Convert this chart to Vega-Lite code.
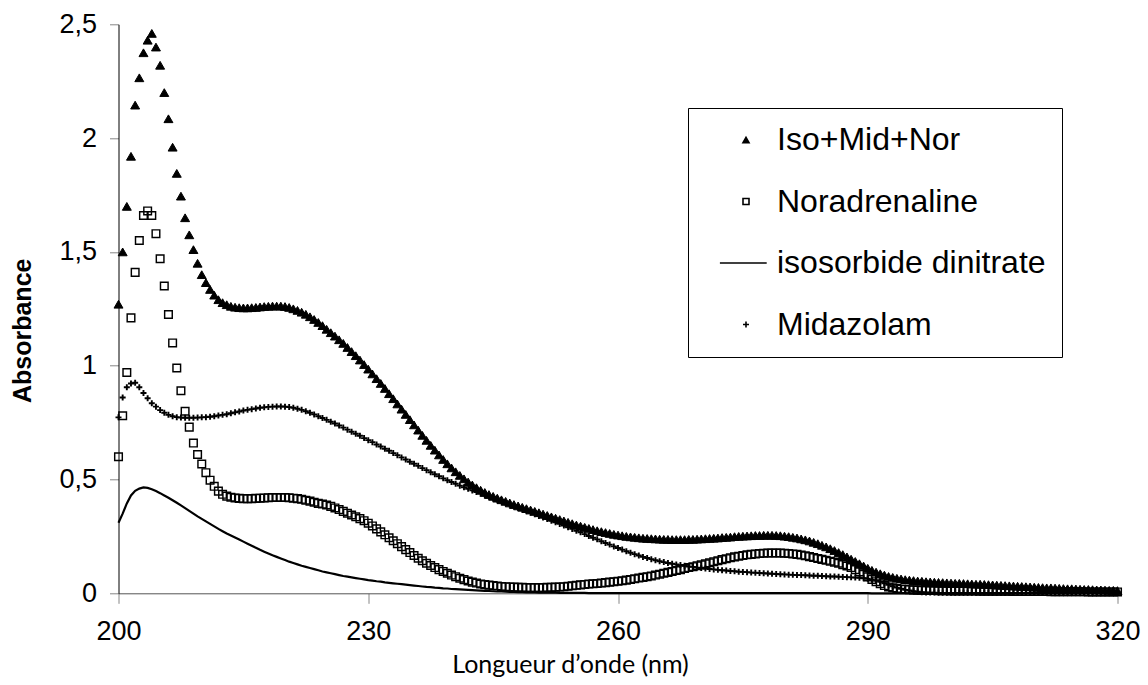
{
"$schema": "https://vega.github.io/schema/vega-lite/v6.json",
"width": 999, "height": 569,
"autosize": {"type": "none"},
"padding": {"left": 118.5, "top": 24.3, "right": 30.5, "bottom": 91.7},
"background": "white",
"config": {"view": {"stroke": null}, "axis": {"grid": false}},
"data": {"values": [
{"nm":200,"Iso+Mid+Nor":1.27,"Noradrenaline":0.6,"isosorbide dinitrate":0.31,"Midazolam":0.773},
{"nm":200.5,"Iso+Mid+Nor":1.5,"Noradrenaline":0.78,"isosorbide dinitrate":0.35,"Midazolam":0.86},
{"nm":201,"Iso+Mid+Nor":1.7,"Noradrenaline":0.97,"isosorbide dinitrate":0.395,"Midazolam":0.905},
{"nm":201.5,"Iso+Mid+Nor":1.92,"Noradrenaline":1.21,"isosorbide dinitrate":0.43,"Midazolam":0.922},
{"nm":202,"Iso+Mid+Nor":2.145,"Noradrenaline":1.41,"isosorbide dinitrate":0.45,"Midazolam":0.925},
{"nm":202.5,"Iso+Mid+Nor":2.265,"Noradrenaline":1.55,"isosorbide dinitrate":0.46,"Midazolam":0.905},
{"nm":203,"Iso+Mid+Nor":2.375,"Noradrenaline":1.66,"isosorbide dinitrate":0.465,"Midazolam":0.88},
{"nm":203.5,"Iso+Mid+Nor":2.43,"Noradrenaline":1.68,"isosorbide dinitrate":0.463,"Midazolam":0.857},
{"nm":204,"Iso+Mid+Nor":2.46,"Noradrenaline":1.66,"isosorbide dinitrate":0.457,"Midazolam":0.835},
{"nm":204.5,"Iso+Mid+Nor":2.4,"Noradrenaline":1.58,"isosorbide dinitrate":0.449,"Midazolam":0.82},
{"nm":205,"Iso+Mid+Nor":2.32,"Noradrenaline":1.47,"isosorbide dinitrate":0.44,"Midazolam":0.805},
{"nm":205.5,"Iso+Mid+Nor":2.2,"Noradrenaline":1.35,"isosorbide dinitrate":0.43,"Midazolam":0.793},
{"nm":206,"Iso+Mid+Nor":2.085,"Noradrenaline":1.225,"isosorbide dinitrate":0.42,"Midazolam":0.784},
{"nm":206.5,"Iso+Mid+Nor":1.96,"Noradrenaline":1.1,"isosorbide dinitrate":0.409,"Midazolam":0.778},
{"nm":207,"Iso+Mid+Nor":1.845,"Noradrenaline":0.99,"isosorbide dinitrate":0.398,"Midazolam":0.774},
{"nm":207.5,"Iso+Mid+Nor":1.745,"Noradrenaline":0.89,"isosorbide dinitrate":0.386,"Midazolam":0.772},
{"nm":208,"Iso+Mid+Nor":1.65,"Noradrenaline":0.8,"isosorbide dinitrate":0.374,"Midazolam":0.771},
{"nm":208.5,"Iso+Mid+Nor":1.575,"Noradrenaline":0.73,"isosorbide dinitrate":0.362,"Midazolam":0.771},
{"nm":209,"Iso+Mid+Nor":1.51,"Noradrenaline":0.66,"isosorbide dinitrate":0.35,"Midazolam":0.771},
{"nm":209.5,"Iso+Mid+Nor":1.45,"Noradrenaline":0.61,"isosorbide dinitrate":0.338,"Midazolam":0.772},
{"nm":210,"Iso+Mid+Nor":1.4,"Noradrenaline":0.568,"isosorbide dinitrate":0.327,"Midazolam":0.773},
{"nm":210.5,"Iso+Mid+Nor":1.365,"Noradrenaline":0.53,"isosorbide dinitrate":0.316,"Midazolam":0.774},
{"nm":211,"Iso+Mid+Nor":1.335,"Noradrenaline":0.497,"isosorbide dinitrate":0.305,"Midazolam":0.776},
{"nm":211.5,"Iso+Mid+Nor":1.31,"Noradrenaline":0.47,"isosorbide dinitrate":0.294,"Midazolam":0.778},
{"nm":212,"Iso+Mid+Nor":1.29,"Noradrenaline":0.449,"isosorbide dinitrate":0.283,"Midazolam":0.781},
{"nm":212.5,"Iso+Mid+Nor":1.277,"Noradrenaline":0.435,"isosorbide dinitrate":0.273,"Midazolam":0.784},
{"nm":213,"Iso+Mid+Nor":1.268,"Noradrenaline":0.427,"isosorbide dinitrate":0.263,"Midazolam":0.787},
{"nm":213.5,"Iso+Mid+Nor":1.261,"Noradrenaline":0.422,"isosorbide dinitrate":0.254,"Midazolam":0.791},
{"nm":214,"Iso+Mid+Nor":1.257,"Noradrenaline":0.419,"isosorbide dinitrate":0.245,"Midazolam":0.795},
{"nm":214.5,"Iso+Mid+Nor":1.255,"Noradrenaline":0.417,"isosorbide dinitrate":0.236,"Midazolam":0.799},
{"nm":215,"Iso+Mid+Nor":1.254,"Noradrenaline":0.416,"isosorbide dinitrate":0.227,"Midazolam":0.803},
{"nm":215.5,"Iso+Mid+Nor":1.254,"Noradrenaline":0.416,"isosorbide dinitrate":0.218,"Midazolam":0.806},
{"nm":216,"Iso+Mid+Nor":1.255,"Noradrenaline":0.416,"isosorbide dinitrate":0.209,"Midazolam":0.809},
{"nm":216.5,"Iso+Mid+Nor":1.256,"Noradrenaline":0.417,"isosorbide dinitrate":0.2,"Midazolam":0.812},
{"nm":217,"Iso+Mid+Nor":1.258,"Noradrenaline":0.418,"isosorbide dinitrate":0.191,"Midazolam":0.815},
{"nm":217.5,"Iso+Mid+Nor":1.26,"Noradrenaline":0.419,"isosorbide dinitrate":0.183,"Midazolam":0.817},
{"nm":218,"Iso+Mid+Nor":1.261,"Noradrenaline":0.42,"isosorbide dinitrate":0.175,"Midazolam":0.819},
{"nm":218.5,"Iso+Mid+Nor":1.262,"Noradrenaline":0.421,"isosorbide dinitrate":0.167,"Midazolam":0.82},
{"nm":219,"Iso+Mid+Nor":1.262,"Noradrenaline":0.421,"isosorbide dinitrate":0.16,"Midazolam":0.821},
{"nm":219.5,"Iso+Mid+Nor":1.262,"Noradrenaline":0.421,"isosorbide dinitrate":0.153,"Midazolam":0.821},
{"nm":220,"Iso+Mid+Nor":1.26,"Noradrenaline":0.421,"isosorbide dinitrate":0.146,"Midazolam":0.82},
{"nm":220.5,"Iso+Mid+Nor":1.256,"Noradrenaline":0.42,"isosorbide dinitrate":0.139,"Midazolam":0.818},
{"nm":221,"Iso+Mid+Nor":1.25,"Noradrenaline":0.418,"isosorbide dinitrate":0.133,"Midazolam":0.815},
{"nm":221.5,"Iso+Mid+Nor":1.243,"Noradrenaline":0.416,"isosorbide dinitrate":0.127,"Midazolam":0.811},
{"nm":222,"Iso+Mid+Nor":1.235,"Noradrenaline":0.413,"isosorbide dinitrate":0.121,"Midazolam":0.806},
{"nm":222.5,"Iso+Mid+Nor":1.226,"Noradrenaline":0.409,"isosorbide dinitrate":0.116,"Midazolam":0.8},
{"nm":223,"Iso+Mid+Nor":1.215,"Noradrenaline":0.405,"isosorbide dinitrate":0.111,"Midazolam":0.793},
{"nm":223.5,"Iso+Mid+Nor":1.203,"Noradrenaline":0.4,"isosorbide dinitrate":0.106,"Midazolam":0.786},
{"nm":224,"Iso+Mid+Nor":1.19,"Noradrenaline":0.395,"isosorbide dinitrate":0.101,"Midazolam":0.778},
{"nm":224.5,"Iso+Mid+Nor":1.176,"Noradrenaline":0.392,"isosorbide dinitrate":0.096,"Midazolam":0.77},
{"nm":225,"Iso+Mid+Nor":1.16,"Noradrenaline":0.388,"isosorbide dinitrate":0.092,"Midazolam":0.762},
{"nm":225.5,"Iso+Mid+Nor":1.145,"Noradrenaline":0.382,"isosorbide dinitrate":0.088,"Midazolam":0.754},
{"nm":226,"Iso+Mid+Nor":1.13,"Noradrenaline":0.375,"isosorbide dinitrate":0.084,"Midazolam":0.746},
{"nm":226.5,"Iso+Mid+Nor":1.114,"Noradrenaline":0.368,"isosorbide dinitrate":0.08,"Midazolam":0.737},
{"nm":227,"Iso+Mid+Nor":1.098,"Noradrenaline":0.36,"isosorbide dinitrate":0.076,"Midazolam":0.728},
{"nm":227.5,"Iso+Mid+Nor":1.08,"Noradrenaline":0.352,"isosorbide dinitrate":0.073,"Midazolam":0.719},
{"nm":228,"Iso+Mid+Nor":1.062,"Noradrenaline":0.344,"isosorbide dinitrate":0.07,"Midazolam":0.71},
{"nm":228.5,"Iso+Mid+Nor":1.044,"Noradrenaline":0.336,"isosorbide dinitrate":0.067,"Midazolam":0.701},
{"nm":229,"Iso+Mid+Nor":1.025,"Noradrenaline":0.328,"isosorbide dinitrate":0.064,"Midazolam":0.692},
{"nm":229.5,"Iso+Mid+Nor":1.005,"Noradrenaline":0.319,"isosorbide dinitrate":0.061,"Midazolam":0.682},
{"nm":230,"Iso+Mid+Nor":0.985,"Noradrenaline":0.308,"isosorbide dinitrate":0.058,"Midazolam":0.673},
{"nm":230.5,"Iso+Mid+Nor":0.964,"Noradrenaline":0.296,"isosorbide dinitrate":0.056,"Midazolam":0.664},
{"nm":231,"Iso+Mid+Nor":0.943,"Noradrenaline":0.283,"isosorbide dinitrate":0.053,"Midazolam":0.654},
{"nm":231.5,"Iso+Mid+Nor":0.922,"Noradrenaline":0.27,"isosorbide dinitrate":0.051,"Midazolam":0.645},
{"nm":232,"Iso+Mid+Nor":0.9,"Noradrenaline":0.257,"isosorbide dinitrate":0.048,"Midazolam":0.635},
{"nm":232.5,"Iso+Mid+Nor":0.877,"Noradrenaline":0.244,"isosorbide dinitrate":0.046,"Midazolam":0.626},
{"nm":233,"Iso+Mid+Nor":0.855,"Noradrenaline":0.231,"isosorbide dinitrate":0.044,"Midazolam":0.616},
{"nm":233.5,"Iso+Mid+Nor":0.832,"Noradrenaline":0.218,"isosorbide dinitrate":0.042,"Midazolam":0.607},
{"nm":234,"Iso+Mid+Nor":0.809,"Noradrenaline":0.205,"isosorbide dinitrate":0.04,"Midazolam":0.597},
{"nm":234.5,"Iso+Mid+Nor":0.786,"Noradrenaline":0.192,"isosorbide dinitrate":0.038,"Midazolam":0.588},
{"nm":235,"Iso+Mid+Nor":0.763,"Noradrenaline":0.179,"isosorbide dinitrate":0.036,"Midazolam":0.578},
{"nm":235.5,"Iso+Mid+Nor":0.74,"Noradrenaline":0.166,"isosorbide dinitrate":0.034,"Midazolam":0.569},
{"nm":236,"Iso+Mid+Nor":0.717,"Noradrenaline":0.154,"isosorbide dinitrate":0.032,"Midazolam":0.56},
{"nm":236.5,"Iso+Mid+Nor":0.694,"Noradrenaline":0.143,"isosorbide dinitrate":0.03,"Midazolam":0.55},
{"nm":237,"Iso+Mid+Nor":0.672,"Noradrenaline":0.132,"isosorbide dinitrate":0.028,"Midazolam":0.541},
{"nm":237.5,"Iso+Mid+Nor":0.65,"Noradrenaline":0.122,"isosorbide dinitrate":0.027,"Midazolam":0.532},
{"nm":238,"Iso+Mid+Nor":0.629,"Noradrenaline":0.113,"isosorbide dinitrate":0.025,"Midazolam":0.523},
{"nm":238.5,"Iso+Mid+Nor":0.608,"Noradrenaline":0.104,"isosorbide dinitrate":0.024,"Midazolam":0.514},
{"nm":239,"Iso+Mid+Nor":0.588,"Noradrenaline":0.096,"isosorbide dinitrate":0.022,"Midazolam":0.505},
{"nm":239.5,"Iso+Mid+Nor":0.569,"Noradrenaline":0.088,"isosorbide dinitrate":0.021,"Midazolam":0.497},
{"nm":240,"Iso+Mid+Nor":0.551,"Noradrenaline":0.08,"isosorbide dinitrate":0.019,"Midazolam":0.489},
{"nm":240.5,"Iso+Mid+Nor":0.534,"Noradrenaline":0.073,"isosorbide dinitrate":0.018,"Midazolam":0.481},
{"nm":241,"Iso+Mid+Nor":0.518,"Noradrenaline":0.066,"isosorbide dinitrate":0.017,"Midazolam":0.473},
{"nm":241.5,"Iso+Mid+Nor":0.503,"Noradrenaline":0.06,"isosorbide dinitrate":0.016,"Midazolam":0.466},
{"nm":242,"Iso+Mid+Nor":0.489,"Noradrenaline":0.054,"isosorbide dinitrate":0.015,"Midazolam":0.459},
{"nm":242.5,"Iso+Mid+Nor":0.476,"Noradrenaline":0.049,"isosorbide dinitrate":0.014,"Midazolam":0.452},
{"nm":243,"Iso+Mid+Nor":0.464,"Noradrenaline":0.045,"isosorbide dinitrate":0.013,"Midazolam":0.445},
{"nm":243.5,"Iso+Mid+Nor":0.453,"Noradrenaline":0.041,"isosorbide dinitrate":0.012,"Midazolam":0.438},
{"nm":244,"Iso+Mid+Nor":0.443,"Noradrenaline":0.038,"isosorbide dinitrate":0.011,"Midazolam":0.431},
{"nm":244.5,"Iso+Mid+Nor":0.434,"Noradrenaline":0.036,"isosorbide dinitrate":0.01,"Midazolam":0.424},
{"nm":245,"Iso+Mid+Nor":0.426,"Noradrenaline":0.034,"isosorbide dinitrate":0.009,"Midazolam":0.417},
{"nm":245.5,"Iso+Mid+Nor":0.418,"Noradrenaline":0.032,"isosorbide dinitrate":0.008,"Midazolam":0.41},
{"nm":246,"Iso+Mid+Nor":0.411,"Noradrenaline":0.03,"isosorbide dinitrate":0.008,"Midazolam":0.403},
{"nm":246.5,"Iso+Mid+Nor":0.404,"Noradrenaline":0.029,"isosorbide dinitrate":0.007,"Midazolam":0.396},
{"nm":247,"Iso+Mid+Nor":0.397,"Noradrenaline":0.028,"isosorbide dinitrate":0.006,"Midazolam":0.389},
{"nm":247.5,"Iso+Mid+Nor":0.39,"Noradrenaline":0.027,"isosorbide dinitrate":0.006,"Midazolam":0.382},
{"nm":248,"Iso+Mid+Nor":0.384,"Noradrenaline":0.026,"isosorbide dinitrate":0.005,"Midazolam":0.375},
{"nm":248.5,"Iso+Mid+Nor":0.378,"Noradrenaline":0.026,"isosorbide dinitrate":0.005,"Midazolam":0.368},
{"nm":249,"Iso+Mid+Nor":0.372,"Noradrenaline":0.025,"isosorbide dinitrate":0.004,"Midazolam":0.361},
{"nm":249.5,"Iso+Mid+Nor":0.366,"Noradrenaline":0.025,"isosorbide dinitrate":0.004,"Midazolam":0.354},
{"nm":250,"Iso+Mid+Nor":0.36,"Noradrenaline":0.025,"isosorbide dinitrate":0.004,"Midazolam":0.347},
{"nm":250.5,"Iso+Mid+Nor":0.354,"Noradrenaline":0.025,"isosorbide dinitrate":0.003,"Midazolam":0.34},
{"nm":251,"Iso+Mid+Nor":0.348,"Noradrenaline":0.025,"isosorbide dinitrate":0.003,"Midazolam":0.333},
{"nm":251.5,"Iso+Mid+Nor":0.342,"Noradrenaline":0.026,"isosorbide dinitrate":0.003,"Midazolam":0.326},
{"nm":252,"Iso+Mid+Nor":0.336,"Noradrenaline":0.026,"isosorbide dinitrate":0.003,"Midazolam":0.319},
{"nm":252.5,"Iso+Mid+Nor":0.33,"Noradrenaline":0.027,"isosorbide dinitrate":0.003,"Midazolam":0.312},
{"nm":253,"Iso+Mid+Nor":0.324,"Noradrenaline":0.028,"isosorbide dinitrate":0.002,"Midazolam":0.305},
{"nm":253.5,"Iso+Mid+Nor":0.318,"Noradrenaline":0.029,"isosorbide dinitrate":0.002,"Midazolam":0.298},
{"nm":254,"Iso+Mid+Nor":0.312,"Noradrenaline":0.031,"isosorbide dinitrate":0.002,"Midazolam":0.29},
{"nm":254.5,"Iso+Mid+Nor":0.306,"Noradrenaline":0.033,"isosorbide dinitrate":0.002,"Midazolam":0.283},
{"nm":255,"Iso+Mid+Nor":0.3,"Noradrenaline":0.035,"isosorbide dinitrate":0.002,"Midazolam":0.275},
{"nm":255.5,"Iso+Mid+Nor":0.295,"Noradrenaline":0.037,"isosorbide dinitrate":0.002,"Midazolam":0.268},
{"nm":256,"Iso+Mid+Nor":0.29,"Noradrenaline":0.039,"isosorbide dinitrate":0.002,"Midazolam":0.26},
{"nm":256.5,"Iso+Mid+Nor":0.285,"Noradrenaline":0.041,"isosorbide dinitrate":0.001,"Midazolam":0.252},
{"nm":257,"Iso+Mid+Nor":0.28,"Noradrenaline":0.042,"isosorbide dinitrate":0.001,"Midazolam":0.244},
{"nm":257.5,"Iso+Mid+Nor":0.275,"Noradrenaline":0.043,"isosorbide dinitrate":0.001,"Midazolam":0.237},
{"nm":258,"Iso+Mid+Nor":0.271,"Noradrenaline":0.045,"isosorbide dinitrate":0.001,"Midazolam":0.229},
{"nm":258.5,"Iso+Mid+Nor":0.267,"Noradrenaline":0.047,"isosorbide dinitrate":0.001,"Midazolam":0.221},
{"nm":259,"Iso+Mid+Nor":0.263,"Noradrenaline":0.049,"isosorbide dinitrate":0.001,"Midazolam":0.214},
{"nm":259.5,"Iso+Mid+Nor":0.259,"Noradrenaline":0.051,"isosorbide dinitrate":0.001,"Midazolam":0.206},
{"nm":260,"Iso+Mid+Nor":0.256,"Noradrenaline":0.053,"isosorbide dinitrate":0.001,"Midazolam":0.199},
{"nm":260.5,"Iso+Mid+Nor":0.253,"Noradrenaline":0.055,"isosorbide dinitrate":0.001,"Midazolam":0.192},
{"nm":261,"Iso+Mid+Nor":0.25,"Noradrenaline":0.058,"isosorbide dinitrate":0.001,"Midazolam":0.185},
{"nm":261.5,"Iso+Mid+Nor":0.248,"Noradrenaline":0.061,"isosorbide dinitrate":0.001,"Midazolam":0.178},
{"nm":262,"Iso+Mid+Nor":0.246,"Noradrenaline":0.064,"isosorbide dinitrate":0.001,"Midazolam":0.172},
{"nm":262.5,"Iso+Mid+Nor":0.244,"Noradrenaline":0.067,"isosorbide dinitrate":0.001,"Midazolam":0.166},
{"nm":263,"Iso+Mid+Nor":0.242,"Noradrenaline":0.07,"isosorbide dinitrate":0.001,"Midazolam":0.16},
{"nm":263.5,"Iso+Mid+Nor":0.241,"Noradrenaline":0.073,"isosorbide dinitrate":0.001,"Midazolam":0.155},
{"nm":264,"Iso+Mid+Nor":0.24,"Noradrenaline":0.076,"isosorbide dinitrate":0.001,"Midazolam":0.15},
{"nm":264.5,"Iso+Mid+Nor":0.239,"Noradrenaline":0.08,"isosorbide dinitrate":0.001,"Midazolam":0.145},
{"nm":265,"Iso+Mid+Nor":0.238,"Noradrenaline":0.084,"isosorbide dinitrate":0.001,"Midazolam":0.141},
{"nm":265.5,"Iso+Mid+Nor":0.237,"Noradrenaline":0.088,"isosorbide dinitrate":0.001,"Midazolam":0.137},
{"nm":266,"Iso+Mid+Nor":0.237,"Noradrenaline":0.092,"isosorbide dinitrate":0.001,"Midazolam":0.133},
{"nm":266.5,"Iso+Mid+Nor":0.236,"Noradrenaline":0.096,"isosorbide dinitrate":0.001,"Midazolam":0.13},
{"nm":267,"Iso+Mid+Nor":0.236,"Noradrenaline":0.1,"isosorbide dinitrate":0.001,"Midazolam":0.127},
{"nm":267.5,"Iso+Mid+Nor":0.236,"Noradrenaline":0.104,"isosorbide dinitrate":0.001,"Midazolam":0.124},
{"nm":268,"Iso+Mid+Nor":0.236,"Noradrenaline":0.109,"isosorbide dinitrate":0.001,"Midazolam":0.121},
{"nm":268.5,"Iso+Mid+Nor":0.237,"Noradrenaline":0.113,"isosorbide dinitrate":0.001,"Midazolam":0.118},
{"nm":269,"Iso+Mid+Nor":0.237,"Noradrenaline":0.117,"isosorbide dinitrate":0.001,"Midazolam":0.116},
{"nm":269.5,"Iso+Mid+Nor":0.238,"Noradrenaline":0.121,"isosorbide dinitrate":0.001,"Midazolam":0.113},
{"nm":270,"Iso+Mid+Nor":0.239,"Noradrenaline":0.125,"isosorbide dinitrate":0.001,"Midazolam":0.111},
{"nm":270.5,"Iso+Mid+Nor":0.24,"Noradrenaline":0.13,"isosorbide dinitrate":0.001,"Midazolam":0.109},
{"nm":271,"Iso+Mid+Nor":0.241,"Noradrenaline":0.134,"isosorbide dinitrate":0.001,"Midazolam":0.107},
{"nm":271.5,"Iso+Mid+Nor":0.242,"Noradrenaline":0.139,"isosorbide dinitrate":0.001,"Midazolam":0.105},
{"nm":272,"Iso+Mid+Nor":0.243,"Noradrenaline":0.143,"isosorbide dinitrate":0.001,"Midazolam":0.103},
{"nm":272.5,"Iso+Mid+Nor":0.245,"Noradrenaline":0.148,"isosorbide dinitrate":0.001,"Midazolam":0.101},
{"nm":273,"Iso+Mid+Nor":0.246,"Noradrenaline":0.152,"isosorbide dinitrate":0.001,"Midazolam":0.1},
{"nm":273.5,"Iso+Mid+Nor":0.247,"Noradrenaline":0.156,"isosorbide dinitrate":0.001,"Midazolam":0.098},
{"nm":274,"Iso+Mid+Nor":0.249,"Noradrenaline":0.16,"isosorbide dinitrate":0.001,"Midazolam":0.097},
{"nm":274.5,"Iso+Mid+Nor":0.25,"Noradrenaline":0.163,"isosorbide dinitrate":0.001,"Midazolam":0.095},
{"nm":275,"Iso+Mid+Nor":0.251,"Noradrenaline":0.166,"isosorbide dinitrate":0.001,"Midazolam":0.094},
{"nm":275.5,"Iso+Mid+Nor":0.252,"Noradrenaline":0.169,"isosorbide dinitrate":0.001,"Midazolam":0.093},
{"nm":276,"Iso+Mid+Nor":0.253,"Noradrenaline":0.171,"isosorbide dinitrate":0.001,"Midazolam":0.091},
{"nm":276.5,"Iso+Mid+Nor":0.254,"Noradrenaline":0.173,"isosorbide dinitrate":0.001,"Midazolam":0.09},
{"nm":277,"Iso+Mid+Nor":0.254,"Noradrenaline":0.175,"isosorbide dinitrate":0.001,"Midazolam":0.089},
{"nm":277.5,"Iso+Mid+Nor":0.255,"Noradrenaline":0.176,"isosorbide dinitrate":0.001,"Midazolam":0.088},
{"nm":278,"Iso+Mid+Nor":0.255,"Noradrenaline":0.177,"isosorbide dinitrate":0.001,"Midazolam":0.087},
{"nm":278.5,"Iso+Mid+Nor":0.255,"Noradrenaline":0.177,"isosorbide dinitrate":0.001,"Midazolam":0.086},
{"nm":279,"Iso+Mid+Nor":0.254,"Noradrenaline":0.177,"isosorbide dinitrate":0.001,"Midazolam":0.085},
{"nm":279.5,"Iso+Mid+Nor":0.253,"Noradrenaline":0.177,"isosorbide dinitrate":0.001,"Midazolam":0.084},
{"nm":280,"Iso+Mid+Nor":0.251,"Noradrenaline":0.176,"isosorbide dinitrate":0.001,"Midazolam":0.083},
{"nm":280.5,"Iso+Mid+Nor":0.249,"Noradrenaline":0.175,"isosorbide dinitrate":0.001,"Midazolam":0.082},
{"nm":281,"Iso+Mid+Nor":0.246,"Noradrenaline":0.173,"isosorbide dinitrate":0.001,"Midazolam":0.081},
{"nm":281.5,"Iso+Mid+Nor":0.243,"Noradrenaline":0.171,"isosorbide dinitrate":0.001,"Midazolam":0.08},
{"nm":282,"Iso+Mid+Nor":0.239,"Noradrenaline":0.168,"isosorbide dinitrate":0.001,"Midazolam":0.08},
{"nm":282.5,"Iso+Mid+Nor":0.235,"Noradrenaline":0.165,"isosorbide dinitrate":0.001,"Midazolam":0.079},
{"nm":283,"Iso+Mid+Nor":0.23,"Noradrenaline":0.161,"isosorbide dinitrate":0.001,"Midazolam":0.078},
{"nm":283.5,"Iso+Mid+Nor":0.224,"Noradrenaline":0.157,"isosorbide dinitrate":0.001,"Midazolam":0.077},
{"nm":284,"Iso+Mid+Nor":0.218,"Noradrenaline":0.153,"isosorbide dinitrate":0.001,"Midazolam":0.077},
{"nm":284.5,"Iso+Mid+Nor":0.211,"Noradrenaline":0.149,"isosorbide dinitrate":0.001,"Midazolam":0.076},
{"nm":285,"Iso+Mid+Nor":0.204,"Noradrenaline":0.145,"isosorbide dinitrate":0.001,"Midazolam":0.075},
{"nm":285.5,"Iso+Mid+Nor":0.196,"Noradrenaline":0.141,"isosorbide dinitrate":0.001,"Midazolam":0.074},
{"nm":286,"Iso+Mid+Nor":0.188,"Noradrenaline":0.137,"isosorbide dinitrate":0.001,"Midazolam":0.074},
{"nm":286.5,"Iso+Mid+Nor":0.179,"Noradrenaline":0.132,"isosorbide dinitrate":0.001,"Midazolam":0.073},
{"nm":287,"Iso+Mid+Nor":0.17,"Noradrenaline":0.126,"isosorbide dinitrate":0.001,"Midazolam":0.072},
{"nm":287.5,"Iso+Mid+Nor":0.16,"Noradrenaline":0.12,"isosorbide dinitrate":0.001,"Midazolam":0.071},
{"nm":288,"Iso+Mid+Nor":0.15,"Noradrenaline":0.113,"isosorbide dinitrate":0.001,"Midazolam":0.07},
{"nm":288.5,"Iso+Mid+Nor":0.14,"Noradrenaline":0.104,"isosorbide dinitrate":0.001,"Midazolam":0.069},
{"nm":289,"Iso+Mid+Nor":0.13,"Noradrenaline":0.094,"isosorbide dinitrate":0.001,"Midazolam":0.068},
{"nm":289.5,"Iso+Mid+Nor":0.12,"Noradrenaline":0.083,"isosorbide dinitrate":0.001,"Midazolam":0.066},
{"nm":290,"Iso+Mid+Nor":0.11,"Noradrenaline":0.072,"isosorbide dinitrate":0.001,"Midazolam":0.064},
{"nm":290.5,"Iso+Mid+Nor":0.101,"Noradrenaline":0.061,"isosorbide dinitrate":0,"Midazolam":0.06},
{"nm":291,"Iso+Mid+Nor":0.093,"Noradrenaline":0.051,"isosorbide dinitrate":0,"Midazolam":0.055},
{"nm":291.5,"Iso+Mid+Nor":0.086,"Noradrenaline":0.042,"isosorbide dinitrate":0,"Midazolam":0.05},
{"nm":292,"Iso+Mid+Nor":0.08,"Noradrenaline":0.034,"isosorbide dinitrate":0,"Midazolam":0.044},
{"nm":292.5,"Iso+Mid+Nor":0.074,"Noradrenaline":0.028,"isosorbide dinitrate":0,"Midazolam":0.037},
{"nm":293,"Iso+Mid+Nor":0.07,"Noradrenaline":0.024,"isosorbide dinitrate":0,"Midazolam":0.031},
{"nm":293.5,"Iso+Mid+Nor":0.066,"Noradrenaline":0.021,"isosorbide dinitrate":0,"Midazolam":0.025},
{"nm":294,"Iso+Mid+Nor":0.063,"Noradrenaline":0.019,"isosorbide dinitrate":0,"Midazolam":0.02},
{"nm":294.5,"Iso+Mid+Nor":0.06,"Noradrenaline":0.017,"isosorbide dinitrate":0,"Midazolam":0.015},
{"nm":295,"Iso+Mid+Nor":0.058,"Noradrenaline":0.016,"isosorbide dinitrate":0,"Midazolam":0.012},
{"nm":295.5,"Iso+Mid+Nor":0.056,"Noradrenaline":0.015,"isosorbide dinitrate":0,"Midazolam":0.009},
{"nm":296,"Iso+Mid+Nor":0.054,"Noradrenaline":0.014,"isosorbide dinitrate":0,"Midazolam":0.007},
{"nm":296.5,"Iso+Mid+Nor":0.053,"Noradrenaline":0.013,"isosorbide dinitrate":0,"Midazolam":0.005},
{"nm":297,"Iso+Mid+Nor":0.051,"Noradrenaline":0.013,"isosorbide dinitrate":0,"Midazolam":0.004},
{"nm":297.5,"Iso+Mid+Nor":0.05,"Noradrenaline":0.012,"isosorbide dinitrate":0,"Midazolam":0.003},
{"nm":298,"Iso+Mid+Nor":0.049,"Noradrenaline":0.012,"isosorbide dinitrate":0,"Midazolam":0.003},
{"nm":298.5,"Iso+Mid+Nor":0.048,"Noradrenaline":0.011,"isosorbide dinitrate":0,"Midazolam":0.002},
{"nm":299,"Iso+Mid+Nor":0.047,"Noradrenaline":0.011,"isosorbide dinitrate":0,"Midazolam":0.002},
{"nm":299.5,"Iso+Mid+Nor":0.046,"Noradrenaline":0.011,"isosorbide dinitrate":0,"Midazolam":0.002},
{"nm":300,"Iso+Mid+Nor":0.045,"Noradrenaline":0.01,"isosorbide dinitrate":0,"Midazolam":0.002},
{"nm":300.5,"Iso+Mid+Nor":0.044,"Noradrenaline":0.01,"isosorbide dinitrate":0,"Midazolam":0.002},
{"nm":301,"Iso+Mid+Nor":0.044,"Noradrenaline":0.01,"isosorbide dinitrate":0,"Midazolam":0.002},
{"nm":301.5,"Iso+Mid+Nor":0.043,"Noradrenaline":0.01,"isosorbide dinitrate":0,"Midazolam":0.002},
{"nm":302,"Iso+Mid+Nor":0.042,"Noradrenaline":0.01,"isosorbide dinitrate":0,"Midazolam":0.002},
{"nm":302.5,"Iso+Mid+Nor":0.041,"Noradrenaline":0.01,"isosorbide dinitrate":0,"Midazolam":0.002},
{"nm":303,"Iso+Mid+Nor":0.04,"Noradrenaline":0.01,"isosorbide dinitrate":0,"Midazolam":0.002},
{"nm":303.5,"Iso+Mid+Nor":0.04,"Noradrenaline":0.009,"isosorbide dinitrate":0,"Midazolam":0.002},
{"nm":304,"Iso+Mid+Nor":0.039,"Noradrenaline":0.009,"isosorbide dinitrate":0,"Midazolam":0.002},
{"nm":304.5,"Iso+Mid+Nor":0.038,"Noradrenaline":0.009,"isosorbide dinitrate":0,"Midazolam":0.002},
{"nm":305,"Iso+Mid+Nor":0.037,"Noradrenaline":0.009,"isosorbide dinitrate":0,"Midazolam":0.002},
{"nm":305.5,"Iso+Mid+Nor":0.036,"Noradrenaline":0.009,"isosorbide dinitrate":0,"Midazolam":0.001},
{"nm":306,"Iso+Mid+Nor":0.035,"Noradrenaline":0.009,"isosorbide dinitrate":0,"Midazolam":0.001},
{"nm":306.5,"Iso+Mid+Nor":0.034,"Noradrenaline":0.009,"isosorbide dinitrate":0,"Midazolam":0.001},
{"nm":307,"Iso+Mid+Nor":0.033,"Noradrenaline":0.009,"isosorbide dinitrate":0,"Midazolam":0.001},
{"nm":307.5,"Iso+Mid+Nor":0.032,"Noradrenaline":0.008,"isosorbide dinitrate":0,"Midazolam":0.001},
{"nm":308,"Iso+Mid+Nor":0.031,"Noradrenaline":0.008,"isosorbide dinitrate":0,"Midazolam":0.001},
{"nm":308.5,"Iso+Mid+Nor":0.03,"Noradrenaline":0.008,"isosorbide dinitrate":0,"Midazolam":0.001},
{"nm":309,"Iso+Mid+Nor":0.029,"Noradrenaline":0.008,"isosorbide dinitrate":0,"Midazolam":0.001},
{"nm":309.5,"Iso+Mid+Nor":0.028,"Noradrenaline":0.008,"isosorbide dinitrate":0,"Midazolam":0.001},
{"nm":310,"Iso+Mid+Nor":0.027,"Noradrenaline":0.008,"isosorbide dinitrate":0,"Midazolam":0.001},
{"nm":310.5,"Iso+Mid+Nor":0.026,"Noradrenaline":0.008,"isosorbide dinitrate":0,"Midazolam":0.001},
{"nm":311,"Iso+Mid+Nor":0.025,"Noradrenaline":0.008,"isosorbide dinitrate":0,"Midazolam":0.001},
{"nm":311.5,"Iso+Mid+Nor":0.024,"Noradrenaline":0.008,"isosorbide dinitrate":0,"Midazolam":0.001},
{"nm":312,"Iso+Mid+Nor":0.024,"Noradrenaline":0.007,"isosorbide dinitrate":0,"Midazolam":0.001},
{"nm":312.5,"Iso+Mid+Nor":0.023,"Noradrenaline":0.007,"isosorbide dinitrate":0,"Midazolam":0.001},
{"nm":313,"Iso+Mid+Nor":0.022,"Noradrenaline":0.007,"isosorbide dinitrate":0,"Midazolam":0.001},
{"nm":313.5,"Iso+Mid+Nor":0.021,"Noradrenaline":0.007,"isosorbide dinitrate":0,"Midazolam":0.001},
{"nm":314,"Iso+Mid+Nor":0.02,"Noradrenaline":0.007,"isosorbide dinitrate":0,"Midazolam":0.001},
{"nm":314.5,"Iso+Mid+Nor":0.02,"Noradrenaline":0.007,"isosorbide dinitrate":0,"Midazolam":0.001},
{"nm":315,"Iso+Mid+Nor":0.019,"Noradrenaline":0.007,"isosorbide dinitrate":0,"Midazolam":0.001},
{"nm":315.5,"Iso+Mid+Nor":0.018,"Noradrenaline":0.007,"isosorbide dinitrate":0,"Midazolam":0.001},
{"nm":316,"Iso+Mid+Nor":0.017,"Noradrenaline":0.007,"isosorbide dinitrate":0,"Midazolam":0.001},
{"nm":316.5,"Iso+Mid+Nor":0.017,"Noradrenaline":0.006,"isosorbide dinitrate":0,"Midazolam":0.001},
{"nm":317,"Iso+Mid+Nor":0.016,"Noradrenaline":0.006,"isosorbide dinitrate":0,"Midazolam":0.001},
{"nm":317.5,"Iso+Mid+Nor":0.015,"Noradrenaline":0.006,"isosorbide dinitrate":0,"Midazolam":0.001},
{"nm":318,"Iso+Mid+Nor":0.015,"Noradrenaline":0.006,"isosorbide dinitrate":0,"Midazolam":0.001},
{"nm":318.5,"Iso+Mid+Nor":0.014,"Noradrenaline":0.006,"isosorbide dinitrate":0,"Midazolam":0.001},
{"nm":319,"Iso+Mid+Nor":0.013,"Noradrenaline":0.006,"isosorbide dinitrate":0,"Midazolam":0.001},
{"nm":319.5,"Iso+Mid+Nor":0.013,"Noradrenaline":0.006,"isosorbide dinitrate":0,"Midazolam":0.001},
{"nm":320,"Iso+Mid+Nor":0.012,"Noradrenaline":0.006,"isosorbide dinitrate":0,"Midazolam":0.001}
]},
"transform": [{"fold": ["Iso+Mid+Nor", "Noradrenaline", "isosorbide dinitrate", "Midazolam"], "as": ["series", "A"]}],
"encoding": {
  "x": {"field": "nm", "type": "quantitative",
    "scale": {"domain": [200, 320], "nice": false, "zero": false},
    "axis": {"values": [200, 230, 260, 290, 320], "title": "Longueur d’onde (nm)",
      "domainColor": "#555555", "tickColor": "#868686", "tickSize": 10,
      "labelFont": "Liberation Sans", "labelFontSize": 27, "labelColor": "black", "labelPadding": 15, "labelFlush": false,
      "titleFont": "Lato", "titleFontSize": 25, "titleFontWeight": "normal", "titleColor": "black",
      "titleX": 451.5, "titleY": 70.7, "titleBaseline": "middle"}},
  "y": {"field": "A", "type": "quantitative",
    "scale": {"domain": [0, 2.5], "nice": false},
    "axis": {"values": [0, 0.5, 1, 1.5, 2, 2.5], "labelExpr": "replace(format(datum.value, '~g'), '.', ',')",
      "title": "Absorbance",
      "domainColor": "black", "tickColor": "#868686", "tickSize": 9,
      "labelFont": "Liberation Sans", "labelFontSize": 27, "labelColor": "black", "labelPadding": 13,
      "titleFont": "Liberation Sans", "titleFontSize": 25, "titleFontWeight": "bold", "titleColor": "black",
      "titleX": -96.5, "titleY": 306, "titleBaseline": "middle"}}
},
"layer": [
  {"transform": [{"filter": "datum.series === 'isosorbide dinitrate'"}],
   "mark": {"type": "line", "color": "black", "strokeWidth": 2.2}},
  {"transform": [{"filter": "datum.series !== 'isosorbide dinitrate'"}],
   "mark": {"type": "point", "opacity": 1},
   "encoding": {
     "shape": {"field": "series", "type": "nominal",
       "scale": {"domain": ["Iso+Mid+Nor", "Noradrenaline", "isosorbide dinitrate", "Midazolam"],
                 "range": ["triangle-up", "square", "M-8.7,0H6.9", "M-1,0H1M0,-1V1"]},
       "legend": {"title": null, "orient": "none", "legendX": 569.5, "legendY": 83.7,
         "strokeColor": "black", "fillColor": "white", "padding": 16,
         "symbolSize": 36, "symbolStrokeColor": "black", "symbolStrokeWidth": 1.6, "symbolOffset": 26,
         "labelFont": "Liberation Sans", "labelFontSize": 32, "labelColor": "black", "labelOffset": 15,
         "rowPadding": 29.5, "labelLimit": 0}},
     "fill": {"field": "series", "type": "nominal",
       "scale": {"domain": ["Iso+Mid+Nor", "Noradrenaline", "isosorbide dinitrate", "Midazolam"],
                 "range": ["black", "transparent", "transparent", "transparent"]}},
     "stroke": {"field": "series", "type": "nominal",
       "scale": {"domain": ["Iso+Mid+Nor", "Noradrenaline", "isosorbide dinitrate", "Midazolam"],
                 "range": ["black", "black", "black", "black"]}},
     "size": {"field": "series", "type": "nominal",
       "scale": {"domain": ["Iso+Mid+Nor", "Noradrenaline", "Midazolam"],
                 "range": [80, 36, 64]}, "legend": null},
     "strokeWidth": {"field": "series", "type": "nominal",
       "scale": {"domain": ["Iso+Mid+Nor", "Noradrenaline", "Midazolam"],
                 "range": [1, 1.9, 2.3]}, "legend": null}
   }}
]
}
